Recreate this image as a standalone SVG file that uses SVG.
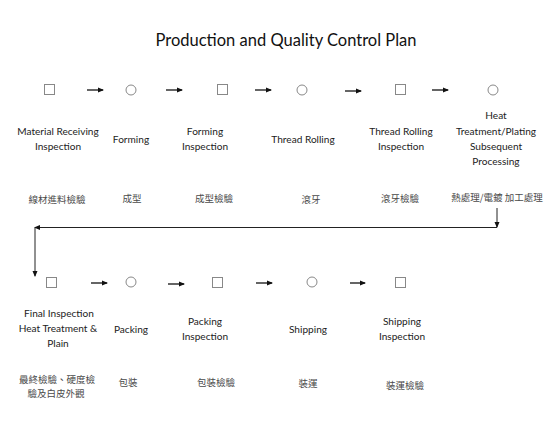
<svg xmlns="http://www.w3.org/2000/svg" width="559" height="428" viewBox="0 0 559 428">
<style>
.t{font-family:Lato,"Liberation Sans",sans-serif;font-size:10.1px;fill:#222;text-anchor:middle}
.title{font-family:Lato,"Liberation Sans",sans-serif;font-size:16.5px;fill:#111;text-anchor:middle}
.c{font-family:"Noto Sans CJK TC","Noto Sans CJK SC",sans-serif;font-size:9.5px;fill:#4a4a4a;text-anchor:middle}
.sym{fill:#fff;stroke:#888;stroke-width:1}
.ar{stroke:#111;stroke-width:1.3;fill:none;marker-end:url(#ah)}
.cn{stroke:#222;stroke-width:1;fill:none;marker-end:url(#ah2)}
</style>
<defs>
<marker id="ah" markerWidth="6" markerHeight="6" refX="5" refY="3" orient="auto" markerUnits="userSpaceOnUse"><path d="M0,0.5 L6,3 L0,5.5 Z" fill="#111"/></marker>
<marker id="ah2" markerWidth="6" markerHeight="6" refX="5" refY="3" orient="auto" markerUnits="userSpaceOnUse"><path d="M0,0.5 L6,3 L0,5.5 Z" fill="#111"/></marker>
</defs>
<rect width="559" height="428" fill="#fff"/>
<text class="title" x="286" y="46">Production and Quality Control Plan</text>

<g id="n1"><rect class="sym" x="44.5" y="84.5" width="10" height="10"/><text class="t" x="58" y="135">Material Receiving</text><text class="t" x="58" y="150">Inspection</text><text class="c" x="57" y="203">線材進料檢驗</text></g>
<g id="n2"><circle class="sym" cx="131" cy="90" r="5"/><text class="t" x="131" y="143">Forming</text><text class="c" x="132" y="202">成型</text></g>
<g id="n3"><rect class="sym" x="217.5" y="84.5" width="10" height="10"/><text class="t" x="205" y="135">Forming</text><text class="t" x="205" y="150">Inspection</text><text class="c" x="214" y="202">成型檢驗</text></g>
<g id="n4"><circle class="sym" cx="302" cy="90" r="5"/><text class="t" x="303" y="143">Thread Rolling</text><text class="c" x="311" y="203">滾牙</text></g>
<g id="n5"><rect class="sym" x="395.5" y="84.5" width="10" height="10"/><text class="t" x="401" y="135">Thread Rolling</text><text class="t" x="401" y="150">Inspection</text><text class="c" x="400" y="202">滾牙檢驗</text></g>
<g id="n6"><circle class="sym" cx="493" cy="90" r="5"/><text class="t" x="496" y="119">Heat</text><text class="t" x="496" y="134.5">Treatment/Plating</text><text class="t" x="496" y="150">Subsequent</text><text class="t" x="496" y="165">Processing</text><text class="c" x="497" y="201">熱處理/電鍍 加工處理</text></g>

<g id="n7"><rect class="sym" x="46.5" y="277.5" width="10" height="10"/><text class="t" x="59" y="317">Final Inspection</text><text class="t" x="58" y="332">Heat Treatment &amp;</text><text class="t" x="58" y="347">Plain</text><text class="c" x="57" y="383">最終檢驗、硬度檢</text><text class="c" x="56" y="397">驗及白皮外觀</text></g>
<g id="n8"><circle class="sym" cx="131" cy="282" r="5"/><text class="t" x="131" y="333">Packing</text><text class="c" x="128" y="386">包裝</text></g>
<g id="n9"><rect class="sym" x="212.5" y="277.5" width="10" height="10"/><text class="t" x="205" y="325">Packing</text><text class="t" x="205" y="340">Inspection</text><text class="c" x="216" y="386">包裝檢驗</text></g>
<g id="n10"><circle class="sym" cx="312" cy="282" r="5"/><text class="t" x="308" y="333">Shipping</text><text class="c" x="308" y="387">裝運</text></g>
<g id="n11"><rect class="sym" x="395.5" y="277.5" width="10" height="10"/><text class="t" x="402" y="325">Shipping</text><text class="t" x="402" y="340">Inspection</text><text class="c" x="405" y="389">裝運檢驗</text></g>

<g id="connectors">
<line class="ar" x1="87" y1="90" x2="103" y2="90"/>
<line class="ar" x1="166" y1="90" x2="182" y2="90"/>
<line class="ar" x1="255" y1="90" x2="271" y2="90"/>
<line class="ar" x1="345" y1="91" x2="361" y2="91"/>
<line class="ar" x1="432" y1="90" x2="448" y2="90"/>
<line class="cn" x1="497" y1="208" x2="497" y2="227"/>
<line class="cn" x1="497" y1="227.5" x2="35" y2="227.5"/>
<line class="cn" x1="35" y1="227.5" x2="35" y2="276"/>
<line class="ar" x1="91" y1="283" x2="107" y2="283"/>
<line class="ar" x1="168" y1="284" x2="184" y2="284"/>
<line class="ar" x1="256" y1="283" x2="272" y2="283"/>
<line class="ar" x1="350" y1="283" x2="365" y2="283"/>
</g>
</svg>
